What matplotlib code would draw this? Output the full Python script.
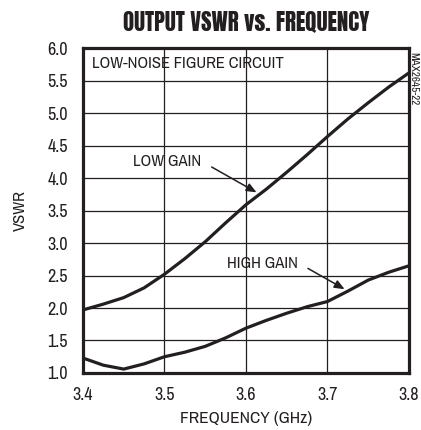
import numpy as np
import matplotlib.pyplot as plt

# Data
freq = [3.4, 3.425, 3.45, 3.475, 3.5, 3.525, 3.55, 3.575, 3.6, 3.625,
        3.65, 3.675, 3.7, 3.725, 3.75, 3.775, 3.8]
low_gain = [1.97, 2.06, 2.16, 2.31, 2.52, 2.76, 3.02, 3.31, 3.59, 3.83,
            4.09, 4.36, 4.64, 4.91, 5.16, 5.4, 5.62]
high_gain = [1.23, 1.12, 1.06, 1.14, 1.25, 1.32, 1.41, 1.54, 1.69, 1.81,
             1.92, 2.02, 2.10, 2.26, 2.43, 2.55, 2.65]

xticks = [3.4, 3.5, 3.6, 3.7, 3.8]
yticks = [1.0, 1.5, 2.0, 2.5, 3.0, 3.5, 4.0, 4.5, 5.0, 5.5, 6.0]

plt.rcParams['font.family'] = ['Archivo Narrow', 'DejaVu Sans']
ink = '#231f20'

fig = plt.figure(figsize=(4.21, 4.30), dpi=100)
ax = fig.add_axes([0.197, 0.1326, 0.7745, 0.7554])

ax.plot(freq, low_gain, color=ink, lw=2.3)
ax.plot(freq, high_gain, color=ink, lw=2.3)

ax.set_xlim(3.4, 3.8)
ax.set_ylim(1.0, 6.0)
ax.set_xticks(xticks)
ax.set_yticks(yticks)
ax.set_xticklabels(['%.1f' % v for v in xticks])
ax.set_yticklabels(['%.1f' % v for v in yticks])
ax.tick_params(length=0, labelsize=13, colors=ink)
ax.tick_params(axis='y', pad=11)
ax.tick_params(axis='x', pad=10)
ax.grid(True, color=ink, lw=0.9)

for s in ax.spines.values():
    s.set_linewidth(2.3)
    s.set_color(ink)

ax.set_xlabel('FREQUENCY (GHz)', fontsize=12.5, color=ink, labelpad=6)
ax.set_ylabel('VSWR', fontsize=12, color=ink, labelpad=14)
fig.text(0.585, 0.95, 'OUTPUT VSWR vs. FREQUENCY', fontsize=16.5,
         family=['Anton', 'DejaVu Sans'], ha='center', va='center', color=ink)

ax.text(3.411, 5.77, 'LOW-NOISE FIGURE CIRCUIT', fontsize=12, va='center',
        color=ink)
ax.text(3.461, 4.25, 'LOW GAIN', fontsize=12, va='center', color=ink)
ax.text(3.577, 2.69, 'HIGH GAIN', fontsize=12, va='center', color=ink)

arrow = dict(arrowstyle='-|>,head_length=0.6,head_width=0.25', color=ink,
             lw=1.1, shrinkA=0, shrinkB=0)
ax.annotate('', xy=(3.613, 3.78), xytext=(3.558, 4.17), arrowprops=arrow)
ax.annotate('', xy=(3.721, 2.29), xytext=(3.676, 2.61), arrowprops=arrow)

fig.text(0.981, 0.88, 'MAX2645-22', rotation=270, fontsize=8, va='top',
         ha='center', color=ink)

fig.savefig('out.png', dpi=100)
